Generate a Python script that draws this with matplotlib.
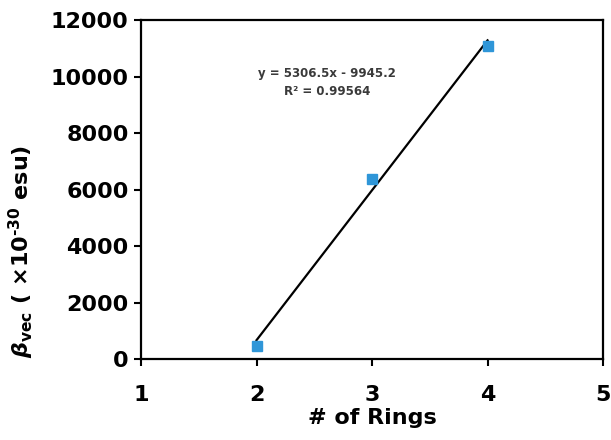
import matplotlib
matplotlib.use("Agg")
import matplotlib.pyplot as plt
import numpy as np

# data
rings = [2, 3, 4]
beta_vec = [460, 6390, 11073]
x_ticks = [1, 2, 3, 4, 5]
y_ticks = [0, 2000, 4000, 6000, 8000, 10000, 12000]
fit_text = "y = 5306.5x - 9945.2\nR\u00b2 = 0.99564"

plt.rcParams['mathtext.fontset'] = 'custom'
plt.rcParams['mathtext.rm'] = 'DejaVu Sans:bold'
plt.rcParams['mathtext.it'] = 'DejaVu Sans:italic:bold'
plt.rcParams['mathtext.bf'] = 'DejaVu Sans:bold'

fig = plt.figure(figsize=(6.11, 4.40), dpi=100, facecolor='w')
ax = fig.add_axes([0.2308, 0.184, 0.7562, 0.7705])

# linear trend line over the data range
slope, icpt = np.polyfit(rings, beta_vec, 1)
xs = np.array([min(rings), max(rings)])
ax.plot(xs, slope * xs + icpt, '-', color='black', lw=1.6, zorder=2)
ax.plot(rings, beta_vec, 's', color='#2f96d8', ms=6.5, mec='#2f96d8', zorder=3)

ax.text(2.61, 9790, fit_text, ha='center', va='center', fontsize=8.5,
        color='#3a3a3a', linespacing=1.45, fontweight='bold',
        family='DejaVu Sans')

ax.set_xlim(1, 5)
ax.set_ylim(0, 12000)
ax.set_xticks(x_ticks)
ax.set_yticks(y_ticks)
ax.set_xticklabels([str(v) for v in x_ticks], fontsize=16, fontweight='bold')
ax.set_yticklabels([str(v) for v in y_ticks], fontsize=16, fontweight='bold')
ax.tick_params(axis='x', direction='out', length=5, width=1.5, pad=14)
ax.tick_params(axis='y', direction='out', length=5, width=1.5, pad=4)
for s in ax.spines.values():
    s.set_linewidth(1.6)

ax.set_xlabel('# of Rings', fontsize=16, fontweight='bold', labelpad=2)
ylab = r'$\beta_{\mathrm{vec}}$ ( ×10$^{\text{-}30}$ esu)'
ax.set_ylabel(ylab, fontsize=16, fontweight='bold')
ax.yaxis.set_label_coords(-0.228, 0.316)

fig.savefig('out.png', dpi=100)
